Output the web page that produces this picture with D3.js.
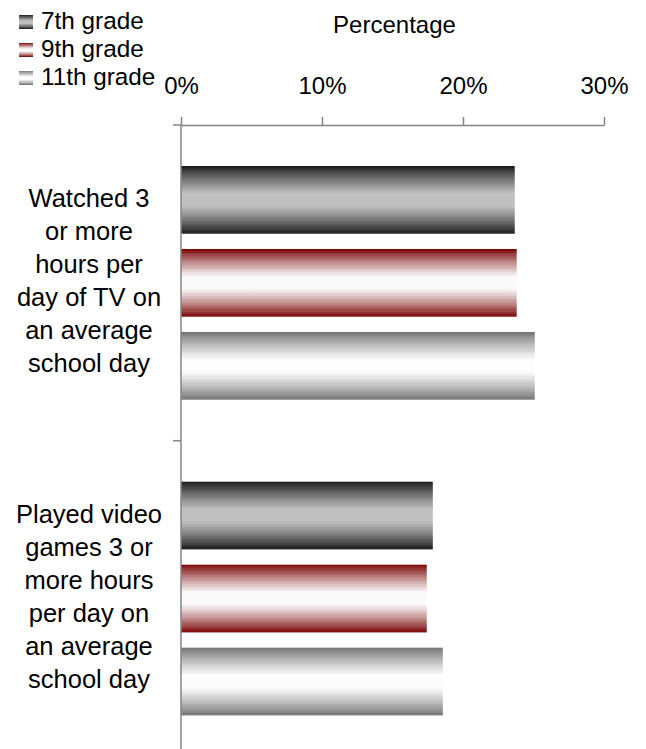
<!DOCTYPE html>
<html>
<head>
<meta charset="utf-8">
<script src="https://cdn.jsdelivr.net/npm/d3@7/dist/d3.min.js"></script>
<style>
  html, body { margin: 0; padding: 0; background: #fff; }
  svg { display: block; font-family: "Liberation Sans", Arial, sans-serif; }
</style>
</head>
<body>
<svg id="chart" width="646" height="749"></svg>
<script>
// Share of students reporting 3+ hours of screen time per school day
const categories = ["tv", "games"];
const categoryLines = [
  ["Watched 3", "or more", "hours per", "day of TV on", "an average", "school day"],
  ["Played video", "games 3 or", "more hours", "per day on", "an average", "school day"]
];
const seriesNames = ["7th grade", "9th grade", "11th grade"];
const grade7 = [0.2367, 0.1786];
const grade9 = [0.2381, 0.1743];
const grade11 = [0.2509, 0.1857];
const tickValues = [0, 0.1, 0.2, 0.3];
const axisTitle = "Percentage";

const seriesValues = [grade7, grade9, grade11];

// Each series is shaded with a vertical gradient: dark edges, light centre
const shading = [
  { edge: "#1e1e1e", mid: "#c0c0c0" },
  { edge: "#7e0a0a", mid: "#fafafa" },
  { edge: "#767676", mid: "#fdfdfd" }
];

const svg = d3.select("#chart");
const defs = svg.append("defs");
shading.forEach((s, i) => {
  const ramp = d3.interpolateRgb(s.edge, s.mid);
  // banded stops, sixteen steps from each edge towards the centre
  const steps = 16;
  const stops = [];
  for (let k = 0; k < steps; k++) {
    const c = ramp(Math.pow(k / (steps - 1), 0.85));
    const a = (k / steps) * 0.42, b = ((k + 1) / steps) * 0.42;
    stops.push([a, c], [b, c], [1 - b, c], [1 - a, c]);
  }
  stops.sort((p, q) => p[0] - q[0]);
  defs.append("linearGradient")
    .attr("id", "shade" + i)
    .attr("x1", 0).attr("y1", 0).attr("x2", 0).attr("y2", 1)
    .selectAll("stop").data(stops).join("stop")
    .attr("offset", d => d[0])
    .attr("stop-color", d => d[1]);
});

const x = d3.scaleLinear().domain([0, 0.3]).range([181, 604]);
const y = d3.scaleBand().domain(categories).range([125, 756.4]).paddingInner(0).paddingOuter(0);
const ySub = d3.scaleBand().domain(d3.range(seriesNames.length))
  .range([0, y.bandwidth()]).paddingInner(0.184).paddingOuter(0.494);

const axisColor = "#858585";

// bars
categories.forEach((cat, ci) => {
  seriesValues.forEach((vals, si) => {
    svg.append("rect")
      .attr("x", x(0))
      .attr("y", y(cat) + ySub(si))
      .attr("width", x(vals[ci]) - x(0))
      .attr("height", ySub.bandwidth())
      .attr("fill", `url(#shade${si})`);
  });
});

// value axis along the top
const xAxis = d3.axisTop(x)
  .tickValues(tickValues)
  .tickFormat(d3.format(".0%"))
  .tickSize(8)
  .tickSizeOuter(0)
  .tickPadding(23);
const gx = svg.append("g").attr("transform", "translate(0,125)").call(xAxis);
gx.select(".domain").attr("stroke", axisColor).attr("stroke-width", 1.5);
gx.selectAll(".tick line").attr("stroke", axisColor).attr("stroke-width", 1.5);
gx.selectAll(".tick text")
  .attr("fill", "#000")
  .style("font-size", "24px")
  .style("font-family", "'Liberation Sans', Arial, sans-serif");

svg.append("text")
  .attr("x", (x(0) + x(0.3)) / 2 + 2)
  .attr("y", 33)
  .attr("text-anchor", "middle")
  .style("font-size", "24px")
  .text(axisTitle);

// category axis: vertical line with ticks at the band boundaries
const gy = svg.append("g");
gy.append("line")
  .attr("x1", x(0)).attr("x2", x(0))
  .attr("y1", y.range()[0]).attr("y2", y.range()[1])
  .attr("stroke", axisColor).attr("stroke-width", 1.5);
const bounds = categories.map(c => y(c)).concat([y.range()[1]]);
gy.selectAll("line.tick").data(bounds).join("line")
  .attr("class", "tick")
  .attr("x1", x(0) - 8).attr("x2", x(0))
  .attr("y1", d => d).attr("y2", d => d)
  .attr("stroke", axisColor).attr("stroke-width", 1.5);

// multi-line category labels
const lineH = 33;
categories.forEach((cat, ci) => {
  const lines = categoryLines[ci];
  const center = y(cat) + y.bandwidth() / 2;
  const first = center - (lines.length - 1) * lineH / 2 + 7;
  const t = svg.append("text")
    .attr("text-anchor", "middle")
    .style("font-size", "25.5px");
  lines.forEach((ln, li) => {
    t.append("tspan").attr("x", 89).attr("y", first + li * lineH).text(ln);
  });
});

// legend
const legend = svg.append("g");
seriesNames.forEach((name, i) => {
  const yy = 15 + i * 28;
  legend.append("rect")
    .attr("x", 19).attr("y", yy).attr("width", 14).attr("height", 14)
    .attr("fill", `url(#shade${i})`);
  legend.append("text")
    .attr("x", 41).attr("y", yy + 13.7)
    .style("font-size", "24.3px")
    .text(name);
});
</script>
</body>
</html>
